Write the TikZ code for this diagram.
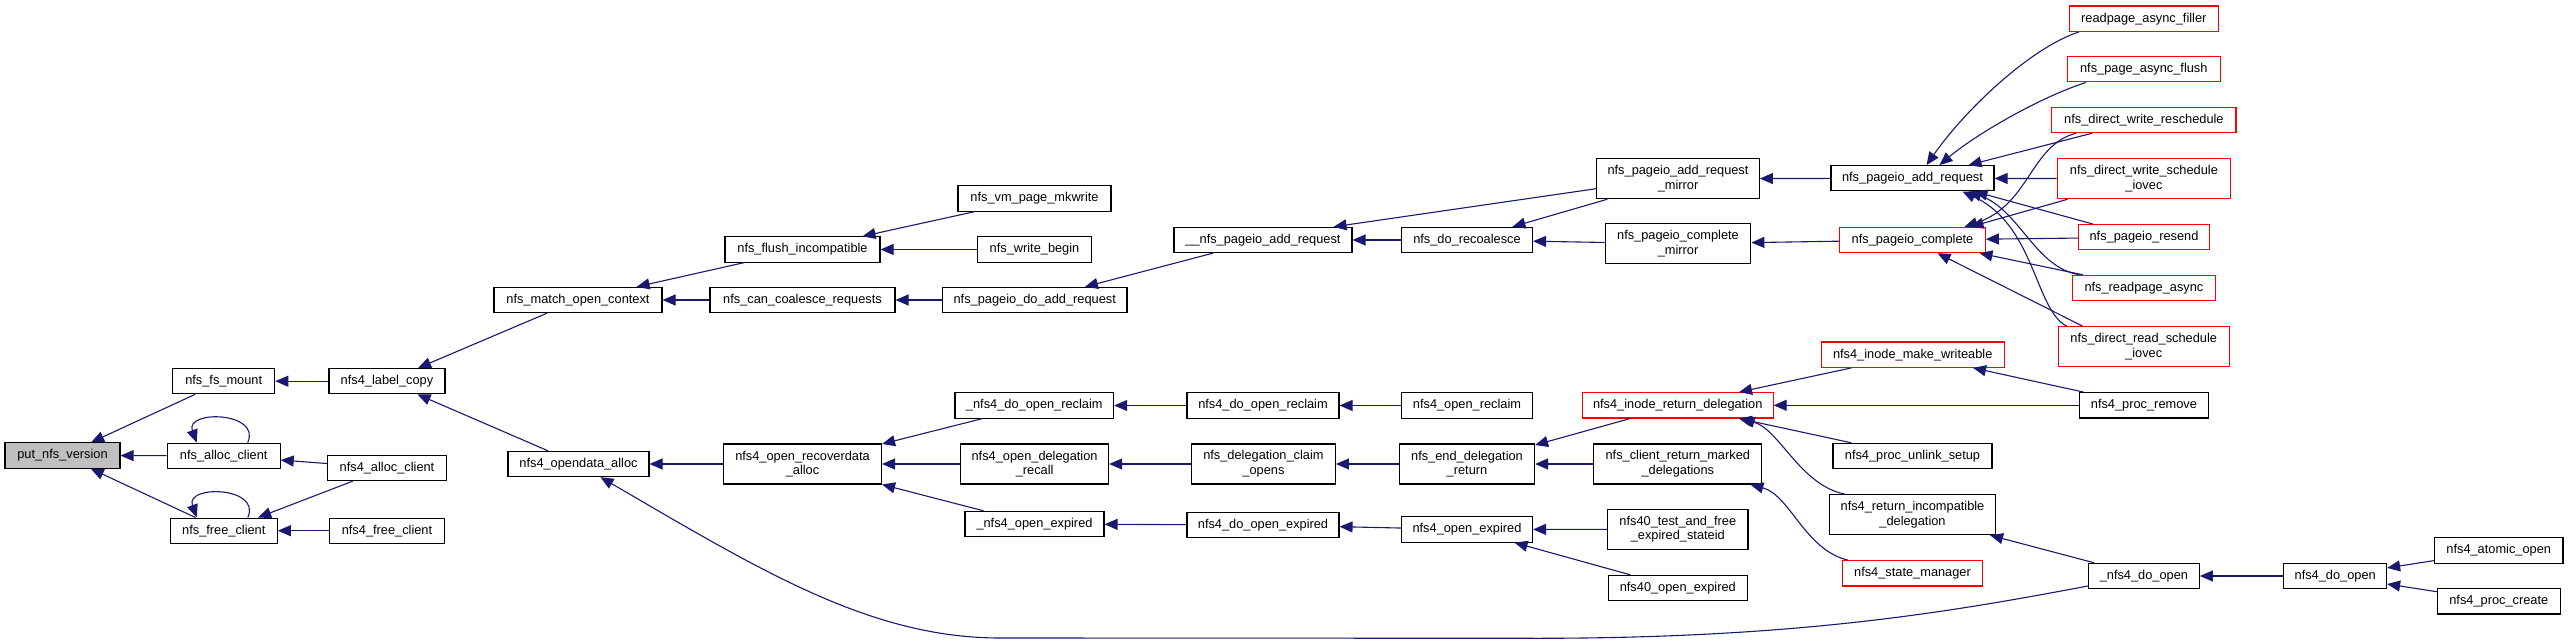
\documentclass[tikz,border=0pt]{standalone}
\usepackage{fontspec}
\setmainfont{Liberation Sans}
\usetikzlibrary{arrows.meta,calc}
\definecolor{edgeblue}{HTML}{191970}
\definecolor{rootgray}{HTML}{BFBFBF}
\begin{document}
\begin{tikzpicture}[x=1pt,y=-1pt,
  fn/.style={draw=black, line width=1.1pt, fill=white, inner sep=0pt, align=center,
     font=\fontsize{12.8}{14.7}\selectfont, minimum height=25.3pt},
  fnt/.style={fn, minimum height=40pt},
  redfn/.style={fn, draw=red},
  redfnt/.style={fnt, draw=red},
  rootfn/.style={fn, fill=rootgray},
  call/.style={draw=edgeblue, line width=1.1pt, -{Triangle[length=13pt,width=11pt]}}]
\fill[white] (0,0) rectangle (2568,644);
\useasboundingbox (0,0) rectangle (2568,644);

% column 1-3
\node[rootfn, minimum width=115pt] (pnv) at (62.5,455.5) {put\_nfs\_version};
\node[fn, minimum width=102pt] (fsm) at (223.7,381.2) {nfs\_fs\_mount};
\node[fn, minimum width=113pt] (nac) at (223.7,455.8) {nfs\_alloc\_client};
\node[fn, minimum width=107pt] (nfc) at (223.8,530.7) {nfs\_free\_client};
\node[fn, minimum width=116pt] (lc) at (387,381.2) {nfs4\_label\_copy};
\node[fn, minimum width=118.6pt] (nfac) at (387,468) {nfs4\_alloc\_client};
\node[fn, minimum width=114.6pt] (nffc) at (387,530.7) {nfs4\_free\_client};
% column 4-5
\node[fn, minimum width=168pt] (moc) at (578,300) {nfs\_match\_open\_context};
\node[fn, minimum width=141pt] (oda) at (578.5,464) {nfs4\_opendata\_alloc};
\node[fn, minimum width=155pt] (fi) at (802.5,249.5) {nfs\_flush\_incompatible};
\node[fn, minimum width=185pt] (ccr) at (802.5,300) {nfs\_can\_coalesce\_requests};
\node[fnt, minimum width=158pt] (ora) at (802.5,464) {nfs4\_open\_recoverdata\\\_alloc};
% column 6
\node[fn, minimum width=153pt] (vpm) at (1034.5,198.5) {nfs\_vm\_page\_mkwrite};
\node[fn, minimum width=114pt] (wb) at (1034.5,249.5) {nfs\_write\_begin};
\node[fn, minimum width=184.5pt] (pdar) at (1034.75,300) {nfs\_pageio\_do\_add\_request};
\node[fn, minimum width=158.6pt] (udorc) at (1034.3,405.5) {\_nfs4\_do\_open\_reclaim};
\node[fnt, minimum width=148pt] (odr) at (1034.6,464) {nfs4\_open\_delegation\\\_recall};
\node[fn, minimum width=139pt] (uoe) at (1034.5,524) {\_nfs4\_open\_expired};
% column 7
\node[fn, minimum width=178pt] (uupar) at (1263,240) {\_\_nfs\_pageio\_add\_request};
\node[fn, minimum width=152pt] (dorc) at (1263,405.5) {nfs4\_do\_open\_reclaim};
\node[fnt, minimum width=144pt] (dco) at (1263.4,464) {nfs\_delegation\_claim\\\_opens};
\node[fn, minimum width=152pt] (doe) at (1263,525) {nfs4\_do\_open\_expired};
% column 8
\node[fn, minimum width=131pt] (drc) at (1467,240) {nfs\_do\_recoalesce};
\node[fn, minimum width=131pt] (orcl) at (1467,405.5) {nfs4\_open\_reclaim};
\node[fnt, minimum width=135pt] (edr) at (1467,464) {nfs\_end\_delegation\\\_return};
\node[fn, minimum width=131pt] (oexp) at (1467,529.5) {nfs4\_open\_expired};
% column 9
\node[fnt, minimum width=162.6pt] (parm) at (1678,178.7) {nfs\_pageio\_add\_request\\\_mirror};
\node[fnt, minimum width=145.7pt] (pcm) at (1678,243.8) {nfs\_pageio\_complete\\\_mirror};
\node[redfn, minimum width=190.7pt] (ird) at (1677.7,405.3) {nfs4\_inode\_return\_delegation};
\node[fnt, minimum width=168pt] (crmd) at (1677.8,464) {nfs\_client\_return\_marked\\\_delegations};
\node[fnt, minimum width=140.3pt] (tfes) at (1677.8,529.2) {nfs40\_test\_and\_free\\\_expired\_stateid};
\node[fn, minimum width=139pt] (foe) at (1677.8,588) {nfs40\_open\_expired};
% column 10
\node[fn, minimum width=163pt] (par) at (1912.5,178.3) {nfs\_pageio\_add\_request};
\node[redfn, minimum width=145.6pt] (pc) at (1912.5,240) {nfs\_pageio\_complete};
\node[redfn, minimum width=182.7pt] (imw) at (1912.7,354.7) {nfs4\_inode\_make\_writeable};
\node[fn, minimum width=159pt] (pus) at (1912.5,456) {nfs4\_proc\_unlink\_setup};
\node[fnt, minimum width=166.3pt] (rid) at (1912.5,514.7) {nfs4\_return\_incompatible\\\_delegation};
\node[redfn, minimum width=140.3pt] (sm) at (1912.5,573.3) {nfs4\_state\_manager};
% column 11
\node[redfn, minimum width=148.5pt] (raf) at (2143.8,18.7) {readpage\_async\_filler};
\node[redfn, minimum width=152.5pt] (paf) at (2143.8,69.3) {nfs\_page\_async\_flush};
\node[redfn, minimum width=184.2pt] (dwr) at (2143.9,120) {nfs\_direct\_write\_reschedule};
\node[redfnt, minimum width=173.4pt] (dwsi) at (2143.9,178.7) {nfs\_direct\_write\_schedule\\\_iovec};
\node[redfn, minimum width=130.7pt] (prs) at (2144,237.3) {nfs\_pageio\_resend};
\node[redfn, minimum width=143.1pt] (rpa) at (2143.9,288) {nfs\_readpage\_async};
\node[redfnt, minimum width=171pt] (drsi) at (2143.7,346.7) {nfs\_direct\_read\_schedule\\\_iovec};
\node[fn, minimum width=129.7pt] (prm) at (2143.9,405.3) {nfs4\_proc\_remove};
\node[fn, minimum width=110.8pt] (udo) at (2143.9,576) {\_nfs4\_do\_open};
% column 12-13
\node[fn, minimum width=102.7pt] (ndo) at (2335.2,576) {nfs4\_do\_open};
\node[fn, minimum width=128.6pt] (ao) at (2498.7,550.5) {nfs4\_atomic\_open};
\node[fn, minimum width=123pt] (pcr) at (2498.8,601.3) {nfs4\_proc\_create};

% edges
\draw[call] (fsm) -- (pnv);
\draw[call] (nac) -- (pnv);
\draw[call] (nfc) -- (pnv);
\draw[call] ($(nac.north)+(24,0)$) .. controls ($(nac.north)+(38,-31)$) and ($(nac.north)+(-39,-33)$) .. ($(nac.north)+(-27,0)$);
\draw[call] ($(nfc.north)+(24,0)$) .. controls ($(nfc.north)+(38,-31)$) and ($(nfc.north)+(-39,-33)$) .. ($(nfc.north)+(-27,0)$);
\draw[call] (lc) -- (fsm);
\draw[call] (nfac) -- (nac);
\draw[call] (nfac) -- (nfc);
\draw[call] (nffc) -- (nfc);
\draw[call] (moc) -- (lc);
\draw[call] (oda) -- (lc);
\draw[call] (fi) -- (moc);
\draw[call] (ccr) -- (moc);
\draw[call] (vpm) -- (fi);
\draw[call] (wb) -- (fi);
\draw[call] (pdar) -- (ccr);
\draw[call] (uupar) -- (pdar);
\draw[call] (drc) -- (uupar);
\draw[call] ($(parm.west)+(0,10)$) -- ($(uupar.north east)+(-19,0)$);
\draw[call] (parm) -- (drc);
\draw[call] (pcm) -- (drc);
\draw[call] (par) -- (parm);
\draw[call] (pc) -- (pcm);
% callers of nfs_pageio_add_request
\draw[call] ($(raf.south west)+(10,0)$) .. controls (2030,48) and (1965,110) .. ($(par.north)+(14,0)$);
\draw[call] ($(paf.south west)+(19,0)$) .. controls (2040,97) and (1975,135) .. ($(par.north)+(27,0)$);
\draw[call] ($(dwr.south west)+(41,0)$) -- ($(par.north)+(56,0)$);
\draw[call] (dwsi) -- (par);
\draw[call] ($(prs.north west)+(15,0)$) -- ($(par.south)+(62,0)$);
\draw[call] ($(rpa.north west)+(8,0)$) .. controls (2035,268) and (2020,210) .. ($(par.south)+(56,0)$);
\draw[call] ($(drsi.north west)+(9,0)$) .. controls (2035,310) and (2035,225) .. ($(par.south)+(50,0)$);
% callers of nfs_pageio_complete
\draw[call] ($(dwr.south west)+(25,0)$) .. controls (2030,145) and (2030,205) .. ($(pc.north)+(52,0)$);
\draw[call] ($(dwsi.south west)+(11,0)$) -- ($(pc.north)+(58,0)$);
\draw[call] (prs) -- (pc);
\draw[call] ($(rpa.north west)+(11,0)$) -- ($(pc.south)+(67,0)$);
\draw[call] ($(drsi.north west)+(25,0)$) -- ($(pc.south)+(25,0)$);
% open path
\draw[call] (ora) -- (oda);
\draw[call] ($(udo.west)+(0,10)$) .. controls (1950,612) and (1800,638) .. (1540,638.3) -- (1000,638) .. controls (870,638) and (760,570) .. ($(oda.south)+(22,0)$);
\draw[call] (udorc) -- (ora);
\draw[call] (odr) -- (ora);
\draw[call] (uoe) -- (ora);
\draw[call] (dorc) -- (udorc);
\draw[call] (orcl) -- (dorc);
\draw[call] (dco) -- (odr);
\draw[call] (edr) -- (dco);
\draw[call] (ird) -- (edr);
\draw[call] (crmd) -- (edr);
\draw[call] (doe) -- (uoe);
\draw[call] (oexp) -- (doe);
\draw[call] (tfes) -- (oexp);
\draw[call] (foe) -- (oexp);
\draw[call] (imw) -- (ird);
\draw[call] (prm) -- (ird);
\draw[call] (pus) -- (ird);
\draw[call] ($(rid.north west)+(16,0)$) .. controls (1800,485) and (1780,430) .. ($(ird.south)+(64,0)$);
\draw[call] ($(sm.north west)+(6,0)$) .. controls (1805,550) and (1790,495) .. ($(crmd.south east)+(-12,0)$);
\draw[call] (prm) -- (imw);
\draw[call] (udo) -- (rid);
\draw[call] (ndo) -- (udo);
\draw[call] (ao) -- (ndo);
\draw[call] (pcr) -- (ndo);
\end{tikzpicture}
\end{document}
